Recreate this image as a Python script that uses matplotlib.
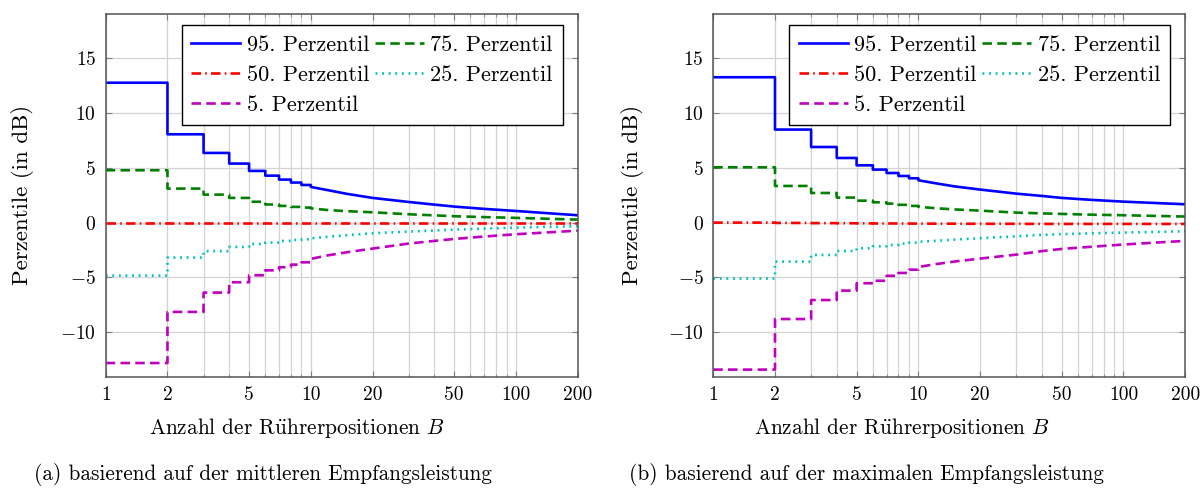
import numpy as np
import matplotlib
matplotlib.use("Agg")
from matplotlib import pyplot as plt
from matplotlib.ticker import FixedLocator, NullFormatter

plt.rcParams['font.family'] = ['cmr10', 'DejaVu Serif']
plt.rcParams['mathtext.fontset'] = 'cm'
plt.rcParams['axes.formatter.use_mathtext'] = True

B = [1, 2, 3, 4, 5, 6, 7, 8, 9, 10, 12, 15, 20, 30, 40, 50, 70, 100, 150, 200]

# (a) mittlere Empfangsleistung
a_p95 = [12.75, 8.05, 6.35, 5.38, 4.71, 4.28, 3.92, 3.65, 3.43, 3.25, 2.97, 2.62, 2.25, 1.88, 1.64, 1.46, 1.25, 1.06, 0.83, 0.67]
a_p75 = [4.77, 3.10, 2.55, 2.25, 1.90, 1.65, 1.52, 1.43, 1.37, 1.30, 1.15, 1.04, 0.94, 0.76, 0.66, 0.58, 0.50, 0.43, 0.34, 0.27]
a_p50 = [0.0, 0.0, 0.0, 0.0, 0.0, 0.0, 0.0, 0.0, 0.0, 0.0, 0.0, 0.0, 0.0, 0.0, 0.0, 0.0, 0.0, 0.0, 0.0, 0.0]
a_p25 = [-4.83, -3.19, -2.61, -2.22, -1.95, -1.82, -1.67, -1.58, -1.52, -1.43, -1.30, -1.15, -0.97, -0.82, -0.72, -0.64, -0.55, -0.46, -0.38, -0.33]
a_p5 = [-12.8, -8.14, -6.38, -5.44, -4.80, -4.35, -4.07, -3.83, -3.62, -3.31, -3.00, -2.70, -2.37, -1.91, -1.67, -1.49, -1.27, -1.06, -0.87, -0.73]

# (b) maximale Empfangsleistung
b_p95 = [13.25, 8.48, 6.89, 5.89, 5.22, 4.83, 4.52, 4.25, 4.04, 3.86, 3.60, 3.30, 3.01, 2.64, 2.43, 2.25, 2.07, 1.91, 1.77, 1.67]
b_p75 = [5.04, 3.34, 2.70, 2.28, 2.00, 1.85, 1.73, 1.62, 1.52, 1.44, 1.32, 1.20, 1.09, 0.91, 0.84, 0.79, 0.72, 0.67, 0.60, 0.55]
b_p50 = [0.0, -0.03, -0.05, -0.06, -0.07, -0.08, -0.08, -0.09, -0.09, -0.09, -0.10, -0.10, -0.11, -0.11, -0.12, -0.12, -0.12, -0.12, -0.12, -0.12]
b_p25 = [-5.10, -3.56, -2.95, -2.59, -2.34, -2.16, -2.04, -1.92, -1.83, -1.75, -1.67, -1.55, -1.42, -1.25, -1.12, -1.05, -0.98, -0.91, -0.84, -0.79]
b_p5 = [-13.4, -8.79, -7.06, -6.20, -5.53, -5.30, -4.85, -4.59, -4.29, -4.05, -3.80, -3.55, -3.28, -2.92, -2.60, -2.40, -2.20, -2.00, -1.80, -1.67]

labels = ["95. Perzentil", "75. Perzentil", "50. Perzentil", "25. Perzentil", "5. Perzentil"]
xticks = [1, 2, 5, 10, 20, 50, 100, 200]
yticks = [-10, -5, 0, 5, 10, 15]

lw = 1.9
styles = [
    dict(color=(0, 0, 1), ls='-'),
    dict(color=(0, 0.5, 0), ls=(0, (3.6, 2.0))),
    dict(color=(1, 0, 0), ls=(0, (3.6, 1.6, 0.6, 1.6))),
    dict(color=(0, 0.75, 0.75), ls=(0, (0.7, 1.8))),
    dict(color=(0.75, 0, 0.75), ls=(0, (3.6, 2.0))),
]


def step_path(b, v, n_step=9):
    # Treppen fuer kleine B, danach glatter Verlauf
    xs, ys = [], []
    for i in range(n_step):
        xs += [b[i], b[i + 1]]
        ys += [v[i], v[i]]
    xs += b[n_step:]
    ys += v[n_step:]
    return xs, ys


def panel(ax, series):
    handles = []
    for vals, st, lab in zip(series, styles, labels):
        xs, ys = step_path(B, vals)
        h, = ax.plot(xs, ys, lw=lw, label=lab, **st)
        handles.append(h)
    ax.set_xscale('log')
    ax.set_xlim(1, 200)
    ax.set_ylim(-14.05, 19)
    ax.xaxis.set_major_locator(FixedLocator(xticks))
    ax.set_xticklabels([str(t) for t in xticks])
    ax.xaxis.set_minor_locator(FixedLocator([3, 4, 6, 7, 8, 9, 30, 40, 60, 70, 80, 90]))
    ax.xaxis.set_minor_formatter(NullFormatter())
    ax.set_yticks(yticks)
    ax.grid(True, which='both', color='#d3d3d3', lw=0.9)
    ax.set_axisbelow(True)
    ax.tick_params(which='both', direction='in', top=True, right=True, color='#7f7f7f',
                   labelsize=14, pad=7)
    ax.tick_params(which='major', length=4)
    ax.tick_params(which='minor', length=2)
    for s in ax.spines.values():
        s.set_color('#555555')
        s.set_linewidth(1.1)
    order = [0, 2, 4, 1, 3]
    leg = ax.legend([handles[i] for i in order], [labels[i] for i in order], ncol=2,
                    loc='upper right', bbox_to_anchor=(0.968, 0.969), fontsize=16,
                    fancybox=False, framealpha=1, edgecolor='black', handlelength=2.2,
                    handletextpad=0.3, columnspacing=0.25, labelspacing=0.47,
                    borderpad=0.44, borderaxespad=0)
    leg.get_frame().set_linewidth(1.0)


fig = plt.figure(figsize=(12.04, 4.88), dpi=100)
ax1 = fig.add_axes([0.0878, 0.228, 0.392, 0.743])
ax2 = fig.add_axes([0.5924, 0.228, 0.392, 0.743])

panel(ax1, [a_p95, a_p75, a_p50, a_p25, a_p5])
panel(ax2, [b_p95, b_p75, b_p50, b_p25, b_p5])

xlabel = r"Anzahl der R$\ddot{\rm u}$hrerpositionen $B$"
for xl, yl, cx, cap in [(297, 23, 263, "(a) basierend auf der mittleren Empfangsleistung"),
                        (902, 632, 866, "(b) basierend auf der maximalen Empfangsleistung")]:
    fig.text(xl / 1204, 1 - 428 / 488, xlabel, ha='center', va='center', fontsize=15.4)
    fig.text(cx / 1204, 1 - 475 / 488, cap, ha='center', va='center', fontsize=15.3)
    fig.text(yl / 1204, 1 - 195 / 488, "Perzentile (in dB)", rotation=90, ha='center', va='center', fontsize=16.5)

fig.savefig("out.png", dpi=100)
